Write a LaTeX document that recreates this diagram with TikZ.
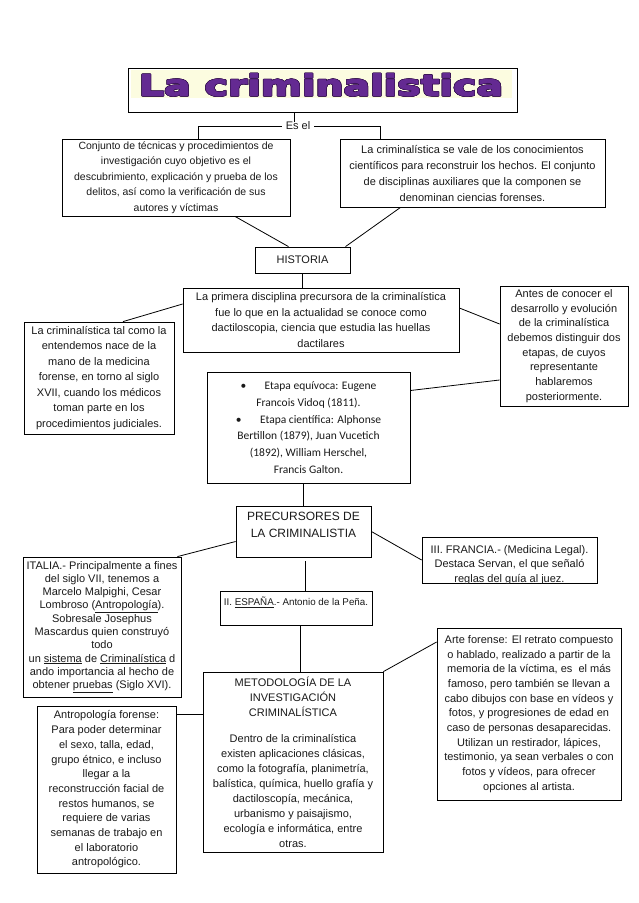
\documentclass[tikz,border=0pt]{standalone}
\usepackage{fontspec}
\usepackage{contour}
\setmainfont{Liberation Sans}
\newfontfamily\calfont{Carlito}
\newfontfamily\titlefont{DejaVu Sans}[BoldFeatures={FakeBold=2.5}]
\usetikzlibrary{calc}
\definecolor{titlepurple}{RGB}{100,42,146}
\definecolor{titleedge}{RGB}{55,20,80}
\definecolor{titlebg}{RGB}{252,252,224}
\definecolor{txtc}{RGB}{25,25,25}
\contourlength{0.45pt}
\tikzset{
  rect/.style={draw=black, line width=0.8pt, inner sep=0pt, align=center, text=txtc,
    font=\fontsize{11}{15.5}\selectfont},
  plain/.style={inner sep=0pt, align=center, text=txtc, font=\fontsize{11}{15.5}\selectfont},
  conn/.style={draw=black, line width=0.8pt},
}
\begin{document}
\begin{tikzpicture}[x=1pt,y=-1pt]
\useasboundingbox (0,0) rectangle (638,903);
% ---------- title
\fill[titlebg] (131,70) rectangle (512,98);
\node[draw, line width=0.8pt, minimum width=389pt, minimum height=44pt, inner sep=0pt] (T) at (322.5,90) {};
\node[inner sep=0pt, text=titlepurple] (TT) at (321,85)
  {\titlefont\bfseries\fontsize{29}{29}\selectfont\scalebox{1.36}[1]{\contour{titleedge}{\textcolor{titlepurple}{La criminalistica}}}};
\node[plain, inner xsep=4pt] (esel) at (298,126) {Es el};
\coordinate (t1) at (294,112);
\draw[conn] (t1) -- (t1 |- esel.north);

% ---------- first level
\node[rect, minimum width=228pt, minimum height=77pt, font=\fontsize{10.5}{15.5}\selectfont] (A) at (176,177.5)
  {Conjunto de técnicas y procedimientos de\\investigación cuyo objetivo es el\\descubrimiento, explicación y prueba de los\\delitos, así como la verificación de sus\\autores y víctimas};
\node[rect, minimum width=265pt, minimum height=68pt, font=\fontsize{11}{16}\selectfont] (B) at (472.5,173)
  {La criminalística se vale de los conocimientos\\científicos para reconstruir los hechos. El conjunto\\de disciplinas auxiliares que la componen se\\denominan ciencias forenses.};
\draw[conn] (esel.west) -| ($(A.north)+(22,0)$);
\draw[conn] (esel.east) -| ($(B.north)+(-92,0)$);

% ---------- historia
\node[rect, minimum width=95pt, minimum height=26pt] (H) at (302.5,260) {HISTORIA};
\draw[conn] ($(A.south)+(59,0)$) -- ($(H.north)+(-14,0)$);
\draw[conn] ($(B.south)+(-72,0)$) -- ($(H.north)+(43,0)$);

\node[rect, minimum width=276pt, minimum height=64pt, font=\fontsize{11}{15.7}\selectfont] (P) at (321,320)
  {La primera disciplina precursora de la criminalística\\fue lo que en la actualidad se conoce como\\dactiloscopia, ciencia que estudia las huellas\\dactilares};
\draw[conn] (H.south) -- (H.south |- P.north);

\node[rect, minimum width=150pt, minimum height=112pt] (L) at (99,378)
  {La criminalística tal como la\\entendemos nace de la\\mano de la medicina\\forense, en torno al siglo\\XVII, cuando los médicos\\toman parte en los\\procedimientos judiciales.};
\draw[conn] ($(P.west)+(0,-16)$) -- ($(L.north)+(24,0)$);

\node[rect, minimum width=128pt, minimum height=120pt, font=\fontsize{11}{14.7}\selectfont] (R) at (564,346)
  {Antes de conocer el\\desarrollo y evolución\\de la criminalística\\debemos distinguir dos\\etapas, de cuyos\\representante\\hablaremos\\posteriormente.};
\draw[conn] ($(P.east)+(0,-12)$) -- ($(R.west)+(0,-22)$);

\node[rect, minimum width=203pt, minimum height=111pt, font=\calfont\fontsize{11.5}{16.7}\selectfont] (E) at (308.5,427.5)
  {\textbullet\hspace{1.6em}Etapa equívoca: Eugene\\Francois Vidoq (1811).\\\textbullet\hspace{1.6em}Etapa científica: Alphonse\\Bertillon (1879), Juan Vucetich\\(1892), William Herschel,\\Francis Galton.};
\draw[conn] ($(E.east)+(0,-37)$) -- ($(R.west)+(0,34)$);

% ---------- precursores
\node[rect, minimum width=135pt, minimum height=51pt] (PREC) at (303.5,531.5) {};
\node[plain, font=\fontsize{12}{16.5}\selectfont] (PRECt) at (303.5,525) {PRECURSORES DE\\LA CRIMINALISTIA};
\draw[conn] (PREC.north) -- (PREC.north |- E.south);

\node[rect, minimum width=158pt, minimum height=140pt, font=\fontsize{11}{13.3}\selectfont] (I) at (102,627)
  {ITALIA.- Principalmente a fines\\del siglo VII, tenemos a\\Marcelo Malpighi, Cesar\\Lombroso (\underline{Antropología}).\\Sobresale Josephus\\Mascardus quien construyó\\todo\\un \underline{sistema} de \underline{Criminalística} d\\ando importancia al hecho de\\obtener \underline{pruebas} (Siglo XVI).};
\draw[conn] ($(PREC.west)+(0,10)$) -- ($(I.north east)+(-4,0)$);

\node[rect, minimum width=175pt, minimum height=46pt] (F) at (509.5,560) {};
\begin{scope}
  \clip (F.north west) rectangle (F.south east);
  \node[plain, font=\fontsize{11}{14.5}\selectfont] (Ft) at (509.5,565)
    {III. FRANCIA.- (Medicina Legal).\\Destaca Servan, el que señaló\\reglas del guía al juez.};
\end{scope}
\draw[conn] (PREC.east) -- (F.west);

\node[rect, minimum width=152pt, minimum height=34pt] (ESP) at (296,608) {};
\node[plain, font=\fontsize{9.8}{12}\selectfont] (ESPt) at (296,602) {II. \underline{ESPAÑA}.- Antonio de la Peña.};
\coordinate (p1) at ($(PREC.south)+(1.5,4)$);
\draw[conn] (p1) -- (p1 |- ESP.north);

% ---------- bottom
\node[rect, minimum width=180pt, minimum height=180pt, font=\fontsize{11}{15}\selectfont] (M) at (293,762)
  {METODOLOGÍA DE LA\\INVESTIGACIÓN\\CRIMINALÍSTICA\\[11pt]Dentro de la criminalística\\existen aplicaciones clásicas,\\como la fotografía, planimetría,\\balística, química, huello grafía y\\dactiloscopía, mecánica,\\urbanismo y paisajismo,\\ecología e informática, entre\\otras.};
\coordinate (m1) at ($(M.north)+(7,0)$);
\draw[conn] (m1) -- (m1 |- ESP.south);

\node[rect, minimum width=184pt, minimum height=172pt, font=\fontsize{11}{14.7}\selectfont] (Arte) at (529,714)
  {Arte forense: El retrato compuesto\\o hablado, realizado a partir de la\\memoria de la víctima, es\ \ el más\\famoso, pero también se llevan a\\cabo dibujos con base en vídeos y\\fotos, y progresiones de edad en\\caso de personas desaparecidas.\\Utilizan un restirador, lápices,\\testimonio, ya sean verbales o con\\fotos y vídeos, para ofrecer\\opciones al artista.};
\draw[conn] (M.north east) -- ($(Arte.west)+(0,-72)$);

\node[rect, minimum width=139pt, minimum height=167pt, font=\fontsize{11}{14.7}\selectfont] (AN) at (106.5,789.5)
  {Antropología forense:\\Para poder determinar\\el sexo, talla, edad,\\grupo étnico, e incluso\\llegar a la\\reconstrucción facial de\\restos humanos, se\\requiere de varias\\semanas de trabajo en\\el laboratorio\\antropológico.};
\coordinate (a1) at ($(AN.east)+(0,-75.5)$);
\draw[conn] (a1) -- (a1 -| M.west);
\end{tikzpicture}
\end{document}
